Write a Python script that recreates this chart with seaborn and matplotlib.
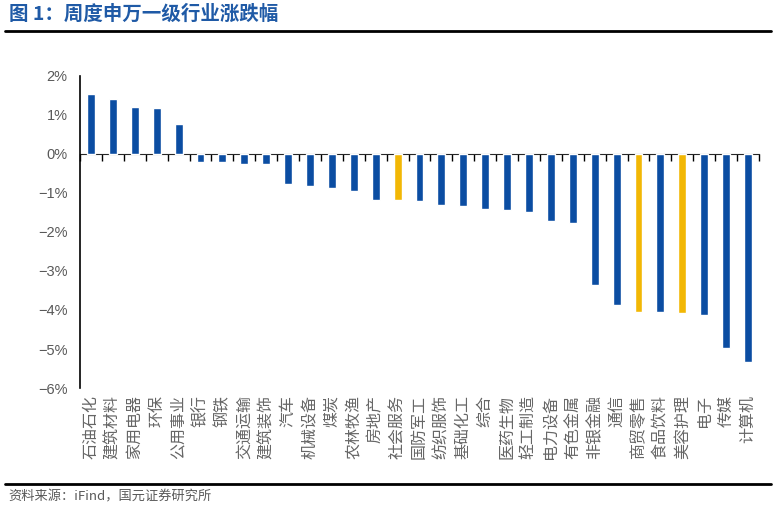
import pandas as pd
import seaborn as sns
import matplotlib.pyplot as plt
from matplotlib.ticker import FixedLocator, PercentFormatter

# weekly change of Shenwan level-1 industries (%)
industries = ['石油石化', '建筑材料', '家用电器', '环保', '公用事业', '银行', '钢铁',
              '交通运输', '建筑装饰', '汽车', '机械设备', '煤炭', '农林牧渔', '房地产',
              '社会服务', '国防军工', '纺织服饰', '基础化工', '综合', '医药生物',
              '轻工制造', '电力设备', '有色金属', '非银金融', '通信', '商贸零售',
              '食品饮料', '美容护理', '电子', '传媒', '计算机']
changes = [1.54, 1.41, 1.21, 1.18, 0.78, -0.20, -0.20, -0.25, -0.26, -0.77, -0.83,
           -0.88, -0.95, -1.18, -1.19, -1.21, -1.30, -1.34, -1.40, -1.43, -1.49,
           -1.73, -1.77, -3.35, -3.88, -4.05, -4.05, -4.08, -4.12, -4.97, -5.33]
highlight = ['社会服务', '商贸零售', '美容护理']
y_ticks = [2, 1, 0, -1, -2, -3, -4, -5, -6]

BLUE = '#0B4DA2'
YELLOW = '#F2B705'
GREY = '#595959'

df = pd.DataFrame({'industry': industries, 'change': changes})
df['group'] = ['hl' if i in highlight else 'base' for i in df['industry']]

sns.set_style('white')
plt.rcParams['font.family'] = ['Noto Sans CJK SC', 'DejaVu Sans']

fig = plt.figure(figsize=(7.76, 5.11), dpi=100)
ax = fig.add_axes([0.1031, 0.2407, 0.875, 0.6106])

sns.barplot(data=df, x='industry', y='change', hue='group',
            palette={'base': BLUE, 'hl': YELLOW}, dodge=False, legend=False,
            width=0.36, saturation=1, ax=ax)

ax.set_xlim(-0.5, len(industries) - 0.5)
ax.set_ylim(min(y_ticks), max(y_ticks))
ax.set_xlabel('')
ax.set_ylabel('')

# y axis
ax.yaxis.set_major_locator(FixedLocator(y_ticks))
ax.yaxis.set_major_formatter(PercentFormatter(decimals=0))
ax.tick_params(axis='y', direction='in', length=5, width=1, color='black',
               pad=9, labelsize=10.5, labelcolor=GREY)
for lab in ax.get_yticklabels():
    lab.set_family(['Liberation Sans', 'DejaVu Sans'])

# category labels at the bottom, rotated
ax.tick_params(axis='x', length=0, pad=5, labelsize=11.5, labelcolor='#666666')
for lab in ax.get_xticklabels():
    lab.set_rotation(90)
    lab.set_va('top')
    lab.set_ha('center')

for s in ['top', 'right', 'bottom']:
    ax.spines[s].set_visible(False)
ax.spines['left'].set_color('black')
ax.spines['left'].set_linewidth(1.2)

# zero line with boundary ticks
zero_frac = (0 - min(y_ticks)) / (max(y_ticks) - min(y_ticks))
sec = ax.secondary_xaxis(zero_frac)
sec.set_xticks([i - 0.5 for i in range(len(industries) + 1)])
sec.set_xticklabels([])
sec.tick_params(direction='in', length=5, width=1, color='black')
sec.spines['bottom'].set_linewidth(1.2)
sec.spines['bottom'].set_color('black')

# header and footer
fig.text(0.011, 0.972, '图 1：周度申万一级行业涨跌幅', color='#1F5AA6',
         fontsize=14, fontweight='bold', va='center', ha='left')
fig.add_artist(plt.Line2D([0.006, 0.994], [0.940, 0.940], color='black', lw=2))
fig.add_artist(plt.Line2D([0.006, 0.994], [0.053, 0.053], color='black', lw=2))
fig.text(0.011, 0.027, '资料来源：iFind，国元证券研究所', color=GREY,
         fontsize=9.5, va='center', ha='left')

fig.savefig('out.png', dpi=100)
